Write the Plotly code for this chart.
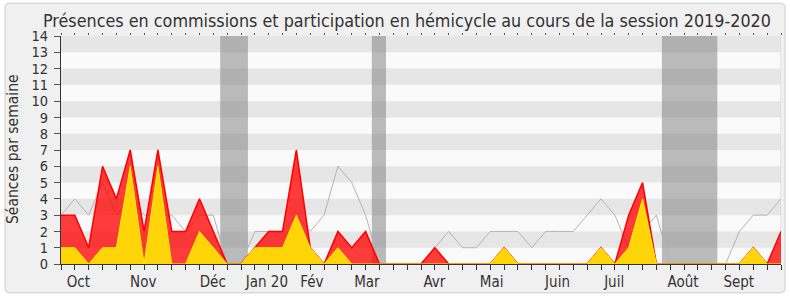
import plotly.graph_objects as go

# ---- data (one value per week of the session, week 0 = start of October 2019) ----
weeks = list(range(53))
presences = [3, 3, 1, 6, 4, 7, 2, 7, 2, 2, 4, 2, 0, 0, 1, 2, 2, 7, 1, 0,
             2, 1, 2, 0, 0, 0, 0, 1, 0, 0, 0, 0, 1, 0, 0, 0, 0, 0, 0, 1,
             0, 3, 5, 0, 0, 0, 0, 0, 0, 0, 1, 0, 2]
participations = [1, 1, 0, 1, 1, 6, 0, 6, 0, 0, 2, 1, 0, 0, 1, 1, 1, 3, 1, 0,
                  1, 0, 0, 0, 0, 0, 0, 0, 0, 0, 0, 0, 1, 0, 0, 0, 0, 0, 0, 1,
                  0, 1, 4, 0, 0, 0, 0, 0, 0, 0, 1, 0, 0]
mediane = [3, 4, 3, 5, 3, 4, 3, 3, 3, 2, 3, 3, 0, 0, 2, 2, 2, 3, 2, 3,
           6, 5, 3, 0, 0, 0, 0, 1, 2, 1, 1, 2, 2, 2, 1, 2, 2, 2, 3, 4,
           3, 1, 2, 3, 0, 0, 0, 0, 0, 2, 3, 3, 4]
questions_weeks = [10, 17]
questions_values = [1.9, 0.9]
vacances_debut = [11.5, 22.45, 43.4]
vacances_fin = [13.5, 23.47, 47.4]
mois_pos = [1.25, 5.94, 10.96, 14.87, 18.12, 22.09, 26.97, 31.1, 35.86, 39.95, 44.93, 48.95]
mois_labels = ["Oct", "Nov", "Déc", "Jan 20", "Fév", "Mar", "Avr", "Mai", "Juin", "Juil", "Août", "Sept"]
y_ticks = list(range(15))

FONT = "DejaVu Sans Condensed, DejaVu Sans, sans-serif"
W, H = 790, 300
ML, MR, MT, MB = 61, 9, 36, 34
PW, PH = W - ML - MR, H - MT - MB


def px(p):
    return (p - ML) / PW


def py(q):
    return (H - MB - q) / PH


fig = go.Figure()
fig.add_trace(go.Scatter(x=weeks, y=mediane, mode="lines",
                         line=dict(color="#b4b4b4", width=1), hoverinfo="skip"))
fig.add_trace(go.Scatter(x=weeks, y=presences, mode="lines", fill="tozeroy",
                         fillcolor="rgba(255,0,0,0.76)",
                         line=dict(color="#ff0000", width=1.5), hoverinfo="skip"))
fig.add_trace(go.Scatter(x=weeks, y=participations, mode="lines", fill="tozeroy",
                         fillcolor="#ffd50a",
                         line=dict(color="#ffee00", width=1), hoverinfo="skip"))
fig.add_trace(go.Bar(x=questions_weeks, y=questions_values, width=0.3,
                     marker=dict(color="#6b6bff", line=dict(width=0)), hoverinfo="skip"))
# helper traces so the overlay axes are drawn
fig.add_trace(go.Scatter(x=[None], y=[None], xaxis="x2", hoverinfo="skip"))
fig.add_trace(go.Scatter(x=[None], y=[None], xaxis="x3", hoverinfo="skip"))

shapes = []
# outer rounded frame
x0, x1, y0, y1 = px(5), px(785), py(3), py(295)
rx, ry = 5 / PW, 5 / PH
path = (f"M {x0+rx},{y0} L {x1-rx},{y0} Q {x1},{y0} {x1},{y0-ry} "
        f"L {x1},{y1+ry} Q {x1},{y1} {x1-rx},{y1} L {x0+rx},{y1} "
        f"Q {x0},{y1} {x0},{y1+ry} L {x0},{y0-ry} Q {x0},{y0} {x0+rx},{y0} Z")
shapes.append(dict(type="path", path=path, xref="paper", yref="paper", layer="below",
                   fillcolor="#f0f0f0", line=dict(color="#dadada", width=1.5)))
# plot background
shapes.append(dict(type="rect", xref="x", yref="y", x0=0, x1=52, y0=0, y1=14,
                   fillcolor="#fafafa", line=dict(width=0), layer="below"))
# alternating horizontal bands
for k in range(1, 14, 2):
    shapes.append(dict(type="rect", xref="x", yref="y", x0=0, x1=52, y0=k, y1=k + 1,
                       fillcolor="#e6e6e6", line=dict(width=0), layer="below"))
# holidays
for a, b in zip(vacances_debut, vacances_fin):
    shapes.append(dict(type="rect", xref="x", yref="y", x0=a, x1=b, y0=0, y1=14,
                       fillcolor="rgba(115,115,115,0.47)", line=dict(width=0), layer="below"))
# right border line
shapes.append(dict(type="line", xref="x", yref="y", x0=52, x1=52, y0=0, y1=14,
                   line=dict(color="#d4d4d4", width=1), layer="below"))

fig.update_layout(
    width=W, height=H, autosize=False,
    margin=dict(l=ML, r=MR, t=MT, b=MB, pad=0),
    paper_bgcolor="white", plot_bgcolor="rgba(0,0,0,0)",
    showlegend=False, barmode="overlay",
    font=dict(family=FONT, color="#333333", size=15),
    shapes=shapes,
    xaxis=dict(range=[0, 52], tickvals=weeks, showticklabels=False,
               ticks="outside", ticklen=5, tickcolor="#333", tickwidth=1,
               showline=True, linecolor="#333", linewidth=1,
               showgrid=False, zeroline=False, fixedrange=True),
    xaxis2=dict(range=[0, 52], overlaying="x", side="top", anchor="y",
                tickvals=weeks, showticklabels=False, ticks="outside", ticklen=2,
                tickcolor="#555", showline=False, showgrid=False, zeroline=False),
    xaxis3=dict(range=[0, 52], overlaying="x", side="bottom", anchor="y",
                tickvals=mois_pos, ticktext=mois_labels, ticks="outside", ticklen=4,
                tickcolor="rgba(0,0,0,0)", showline=False, showgrid=False, zeroline=False,
                tickfont=dict(family=FONT, size=15, color="#333")),
    yaxis=dict(range=[0, 14], tickvals=y_ticks, ticks="outside", ticklen=6,
               tickcolor="#555", showline=True, linecolor="#333", linewidth=1,
               showgrid=False, zeroline=False, ticklabelstandoff=3,
               tickfont=dict(family=FONT, size=14.5, color="#333")),
    annotations=[
        dict(text="Présences en commissions et participation en hémicycle au cours de la session 2019-2020",
             xref="paper", yref="paper", x=px(407), y=py(20), showarrow=False,
             xanchor="center", yanchor="middle",
             font=dict(family=FONT, size=17.8, color="#333")),
        dict(text="Séances par semaine", xref="paper", yref="paper",
             x=px(13), y=py(150), showarrow=False, textangle=-90,
             xanchor="center", yanchor="middle",
             font=dict(family=FONT, size=15.5, color="#333")),
    ],
)

fig.write_html("out.html")
